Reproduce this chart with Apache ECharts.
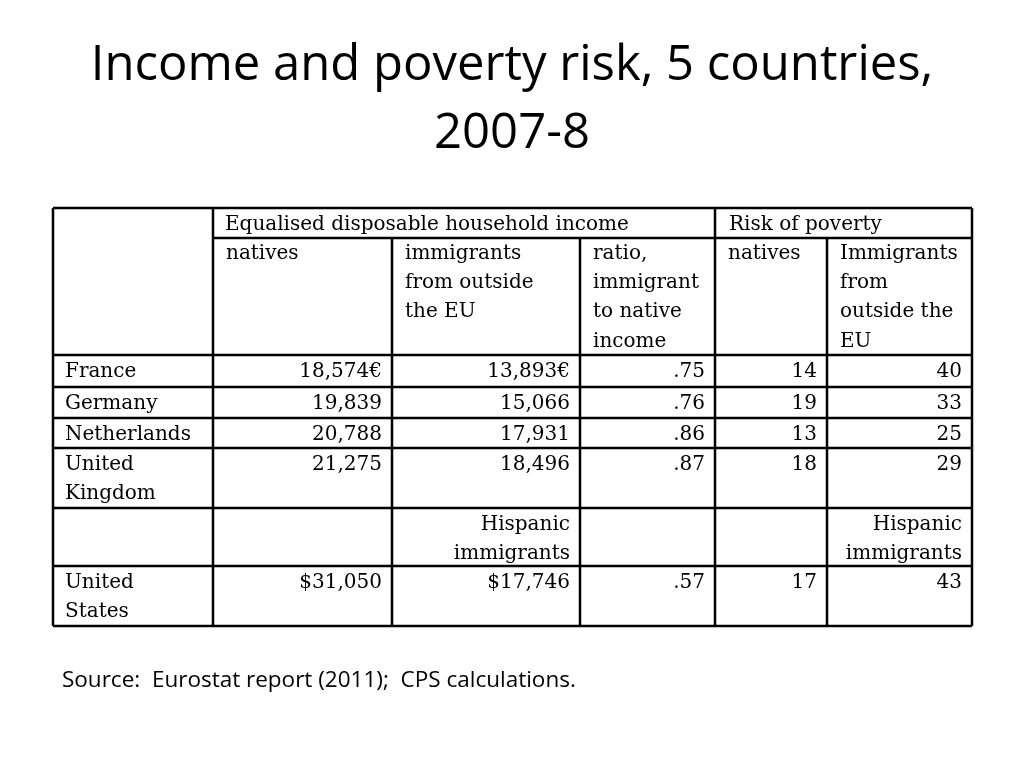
<!DOCTYPE html>
<html><head><meta charset="utf-8">
<script src="https://cdn.jsdelivr.net/npm/echarts@6/dist/echarts.min.js"></script>
<style>html,body{margin:0;padding:0;background:#fff}#c{width:1024px;height:768px}</style>
</head><body><div id="c"></div>
<script>
const title = ['Income and poverty risk, 5 countries,', '2007-8'];
const groupHeaders = ['Equalised disposable household income', 'Risk of poverty'];
const subHeaders = [['natives'], ['immigrants', 'from outside', 'the EU'], ['ratio,', 'immigrant', 'to native', 'income'], ['natives'], ['Immigrants', 'from', 'outside the', 'EU']];
const countries = [['France'], ['Germany'], ['Netherlands'], ['United', 'Kingdom'], [''], ['United', 'States']];
const nativesIncome = ['18,574€', '19,839', '20,788', '21,275', '', '$31,050'];
const immigrantIncome = ['13,893€', '15,066', '17,931', '18,496', 'Hispanic\nimmigrants', '$17,746'];
const ratio = ['.75', '.76', '.86', '.87', '', '.57'];
const nativesPoverty = ['14', '19', '13', '18', '', '17'];
const immigrantPoverty = ['40', '33', '25', '29', 'Hispanic\nimmigrants', '43'];
const source = 'Source:  Eurostat report (2011);  CPS calculations.';

const colX = [53, 213, 392, 580, 715, 827, 972];
const rowY = [355, 387, 418, 448, 508, 566, 626];
const lh = 29.3;
const font = '20px "DejaVu Serif"';
const els = [];
function line(x1, y1, x2, y2) { els.push({type: 'line', shape: {x1, y1, x2, y2}, style: {stroke: '#000', lineWidth: 2.5}}); }
function txt(x, y, s, align) { els.push({type: 'text', x, y, style: {text: s, font, fill: '#000', align: align || 'left', verticalAlign: 'top', lineHeight: lh}}); }

els.push({type: 'text', x: 512, y: 32, style: {text: title.join('\n'), font: '49px "Open Sans"', fill: '#000', align: 'center', lineHeight: 68}});
line(colX[0], 208, colX[6], 208);
line(colX[1], 238, colX[6], 238);
rowY.forEach(y => line(colX[0], y, colX[6], y));
[0, 1, 4, 6].forEach(i => line(colX[i], 208, colX[i], 626));
[2, 3, 5].forEach(i => line(colX[i], 238, colX[i], 626));
txt(colX[1] + 12, 210, groupHeaders[0]);
txt(colX[4] + 14, 210, groupHeaders[1]);
subHeaders.forEach((h, i) => txt(colX[i + 1] + 13, 239, h.join('\n')));
const cols = [nativesIncome, immigrantIncome, ratio, nativesPoverty, immigrantPoverty];
countries.forEach((c, r) => {
  const y = rowY[r] + 2;
  txt(colX[0] + 12, y, c.join('\n'));
  cols.forEach((arr, i) => { if (arr[r]) txt(colX[i + 2] - 10, y, arr[r], 'right'); });
});
els.push({type: 'text', x: 62, y: 669, style: {text: source, font: '22.5px "Open Sans"', fill: '#000'}});

const chart = echarts.init(document.getElementById('c'));
chart.setOption({animation: false, graphic: {elements: els}});
</script></body></html>
